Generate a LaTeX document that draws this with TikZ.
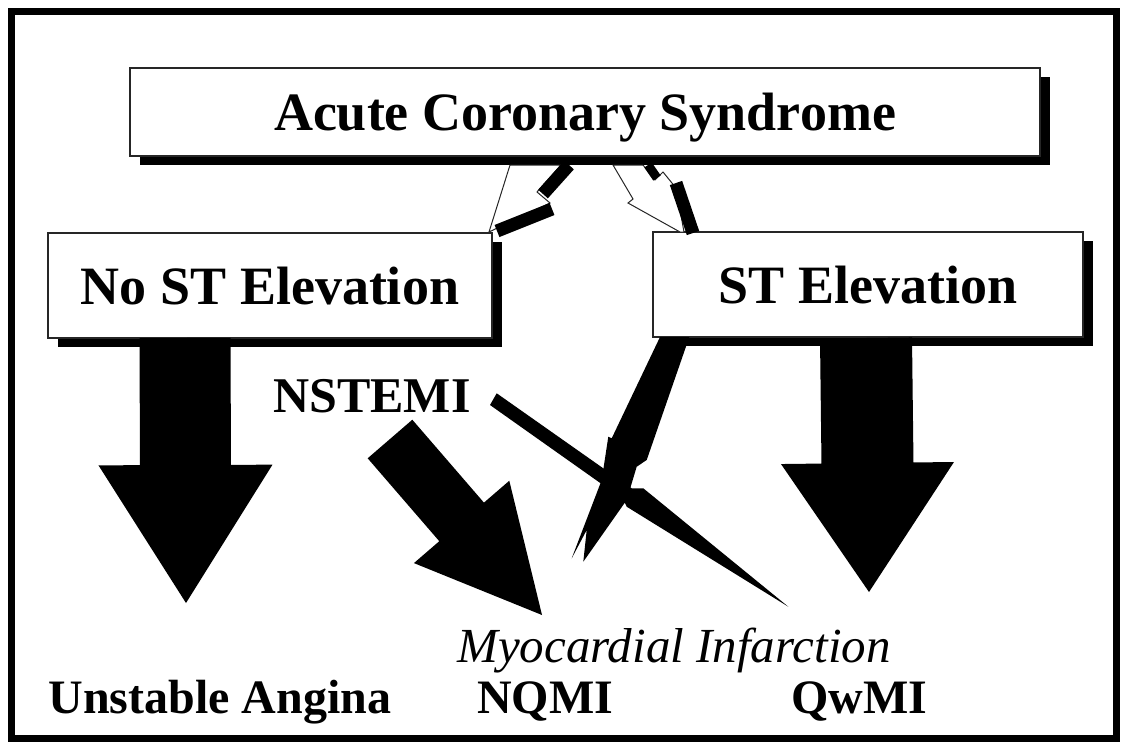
\documentclass[tikz,border=0pt]{standalone}
\usepackage{fontspec}
\setmainfont{Liberation Serif}
\usetikzlibrary{calc, shadows}
\tikzset{
    boite/.style={
        draw=black!85, line width=1.2pt, fill=white, inner sep=0pt,
        general shadow={fill=black, shadow xshift=10pt, shadow yshift=-9pt},
        font=\fontsize{54}{60}\selectfont\bfseries,
        text height=37pt, text depth=0pt
    },
    etiquette/.style={
        font=\fontsize{48}{54}\selectfont\bfseries, inner sep=0pt, anchor=base
    },
    face/.style={fill=white, draw=black!85, line width=1pt},
    cote/.style={draw=black, line width=13pt}
}
% depart, pointe, demi-largeur du corps, demi-largeur de la tete, longueur de la tete
\newcommand\grossefleche[5]{%
    \coordinate (bf) at ($(#2)!#5!(#1)$);
    \fill ($(#1)!#3!90:(#2)$) -- ($(bf)!#3!90:(#2)$) -- ($(bf)!#4!90:(#2)$) -- (#2)
        -- ($(bf)!#4!-90:(#2)$) -- ($(bf)!#3!-90:(#2)$) -- ($(#1)!#3!-90:(#2)$) -- cycle;
}

\begin{document}
\begin{tikzpicture}[x=1pt, y=-1pt]
    \useasboundingbox (0,0) rectangle (1123,742);
    \draw[line width=7pt] (11.5,11.5) rectangle (1116.5,738.5);

    % Boites
    \node[boite, minimum width=910pt, minimum height=88pt] (acs) at (585,112) {Acute Coronary Syndrome};
    \node[boite, minimum width=444pt, minimum height=105pt] (sansst) at (270,285.5) {No ST Elevation};
    \node[boite, minimum width=430pt, minimum height=105pt] (avecst) at (868,284.5) {ST Elevation};

    % Etiquettes
    \node[etiquette, font=\fontsize{50}{56}\selectfont\bfseries] (nstemi) at (372,412) {NSTEMI};
    \node[etiquette, font=\fontsize{49}{56}\selectfont\itshape] (infarctus) at (674,662) {Myocardial Infarction};
    \node[etiquette] (angor) at (220,713) {Unstable Angina};
    \node[etiquette] (nqmi) at (545,713) {NQMI};
    \node[etiquette] (qwmi) at (859,713) {QwMI};

    % Eclairs du haut
    \draw[face] (510,165) -- (561,165) -- (537,192) -- (550,203) -- (489,232) -- cycle;
    \draw[cote] (569,165) -- (543,194);
    \draw[cote] (552,209) -- (497,231);

    \draw[face] (613,165) -- (643,165) -- (655,180) -- (663,172) -- (676,188)
        -- (684,232) -- (680,232) -- (628,203) -- (633,199) -- cycle;
    \draw[cote, line width=9pt] (648,165) -- (657,178);
    \draw[cote] (676,183) -- (693,233);

    % Grosses fleches
    \coordinate (d1) at (185,338);
    \coordinate (p1) at (186,603);
    \grossefleche{d1}{p1}{45.5pt}{87pt}{138pt}

    \coordinate (d2) at (866,338);
    \coordinate (p2) at (869,592);
    \grossefleche{d2}{p2}{46pt}{86.5pt}{129pt}

    \coordinate (d3) at (390,439);
    \coordinate (p3) at (542,615);
    \grossefleche{d3}{p3}{29.5pt}{63pt}{123pt}

    % Eclairs croises
    \coordinate (p4) at (571.7,558.3);
    \fill (660,337) -- (611.7,438.3) -- (608.3,436.7) -- (601.7,480) -- (p4)
        -- (586.7,530) -- (583.3,561.7) -- (626.7,500) -- (636.7,466.7)
        -- (646.7,460) -- (689.3,337) -- cycle;

    \coordinate (p5) at (788.3,606.7);
    \fill (496.7,393.3) -- (631.7,488.3) -- (643.3,488.3) -- (p5)
        -- (626.7,506.7) -- (623.3,499.3) -- (490,405) -- cycle;

\end{tikzpicture}
\end{document}
